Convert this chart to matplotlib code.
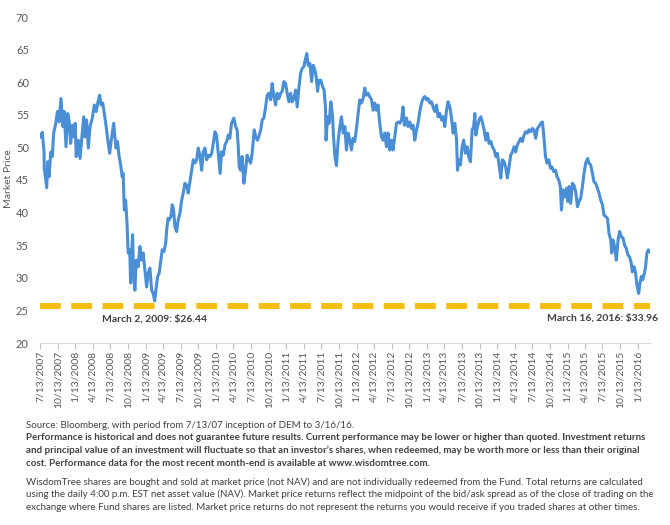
import matplotlib
matplotlib.use('Agg')
import matplotlib.pyplot as plt
import pandas as pd

# DEM market price (days since inception, price)
inception = '2007-07-13'
days_since_inception = [
    1, 12, 21, 22, 35, 40, 47, 56, 64, 71,
    82, 90, 99, 109, 119, 126, 135, 144, 152, 159,
    168, 177, 183, 188, 199, 208, 217, 227, 234, 242,
    251, 260, 272, 282, 292, 300, 310, 317, 326, 334,
    343, 351, 362, 370, 383, 389, 395, 403, 410, 419,
    427, 432, 438, 445, 452, 458, 466, 471, 476, 481,
    486, 493, 500, 510,
    519, 528, 536, 545, 554, 562, 571, 580, 588, 596,
    602, 611, 619, 628, 635, 644, 653, 658, 665, 671,
    680, 687, 694, 701, 710, 718, 727, 736, 744, 753,
    762, 770, 779, 788, 796, 805, 814, 822, 831, 840,
    848, 857, 866, 874, 883, 892, 900, 909, 917, 926,
    936, 943, 952, 961, 970, 978, 986, 995, 1007, 1016,
    1024, 1030, 1035, 1042, 1050, 1059, 1068, 1076, 1085,
    1094, 1102, 1113, 1121, 1130, 1139, 1147, 1154, 1163, 1172,
    1180, 1189, 1198, 1206, 1215, 1224, 1232, 1241, 1250, 1258,
    1267, 1276, 1284, 1293, 1302, 1310, 1319, 1328, 1336, 1345,
    1354, 1362, 1371, 1380, 1386, 1393, 1402, 1411, 1419, 1428,
    1435, 1442, 1449, 1459, 1468, 1476, 1483, 1486, 1494, 1502,
    1511, 1520, 1525, 1532, 1540, 1549, 1558, 1566, 1575, 1584,
    1592, 1601,
    1610, 1618, 1627, 1635, 1644, 1653, 1661, 1670, 1679, 1687,
    1696, 1705, 1713, 1722, 1731, 1739, 1748, 1756, 1765, 1774,
    1782, 1791, 1800, 1808, 1817, 1826, 1834, 1843, 1852, 1860,
    1869, 1878, 1886, 1893, 1904, 1912, 1921, 1930, 1938, 1947,
    1956, 1964, 1973, 1982, 1990, 1999, 2008, 2016, 2025, 2034,
    2042, 2051, 2060, 2068, 2077, 2086, 2094, 2103, 2112, 2120,
    2129, 2138, 2146,
    2155, 2164, 2169, 2175, 2184, 2193, 2201, 2210, 2219, 2227,
    2236, 2245, 2253, 2259, 2264, 2273, 2281, 2290, 2298, 2307,
    2316, 2324, 2333, 2342, 2350, 2359, 2368, 2376, 2385, 2394,
    2402, 2411, 2419, 2428, 2437, 2445, 2454, 2463, 2471, 2480,
    2489, 2497, 2506, 2515, 2523, 2532, 2540, 2549, 2558, 2566,
    2575, 2584, 2592, 2601, 2610, 2617, 2626, 2634, 2643, 2652,
    2660, 2669, 2678, 2686, 2695,
    2703, 2709, 2717, 2726, 2735, 2743, 2748, 2757, 2766, 2774,
    2783, 2792, 2800, 2809, 2818, 2826, 2835, 2845, 2852, 2861,
    2870, 2878, 2887, 2896, 2904, 2913, 2922, 2930, 2939, 2948,
    2956, 2965, 2970, 2977, 2985, 2994, 3003, 3011, 3020, 3029,
    3037, 3046, 3054, 3063, 3072, 3077, 3086, 3094, 3101, 3110,
    3117, 3124, 3131, 3140, 3146, 3153, 3160, 3169,
]
market_price = [
    51.6, 52.3, 49.3, 46.8, 43.8, 47.8, 45.5, 49.3, 48.6, 52.2,
    53.7, 55.5, 53.9, 57.5, 53.2, 55.5, 50.1, 55.2, 53.9, 50.6,
    53.4, 51.6, 53.7, 48.6, 51.1, 48.3, 51.4, 54.7, 51.6, 54.2,
    49.9, 53.2, 54.5, 56.5, 55.5, 56.8, 58.0, 56.5, 56.8, 55.2,
    53.4, 51.4, 49.1, 51.1, 53.7, 51.6, 49.9, 50.9, 48.8, 47.3,
    45.5, 46.0, 40.4, 41.9, 38.4, 33.8, 34.3, 29.2, 33.2, 36.6,
    30.7, 28.1, 32.7, 31.7,
    34.8, 32.7, 33.8, 31.2, 28.6, 30.7, 31.5, 28.1, 27.6, 26.44,
    28.1, 30.2, 30.7, 32.7, 34.3, 34.0, 35.3, 37.3, 39.1, 38.9,
    39.4, 41.2, 40.4, 37.8, 37.1, 38.9, 39.9, 41.9, 43.0, 44.5,
    44.2, 43.0, 44.7, 46.5, 48.1, 47.6, 48.1, 49.9, 48.8, 46.5,
    49.3, 49.9, 48.1, 48.8, 48.6, 49.1, 50.6, 52.4, 51.9, 49.1,
    46.0, 49.3, 48.8, 50.4, 50.9, 51.9, 51.4, 53.7, 54.5, 53.2,
    52.7, 50.1, 47.0, 46.5, 48.6, 44.5, 46.5, 48.8, 48.1,
    47.6, 49.1, 52.7, 51.6, 51.1, 51.9, 52.7, 54.2, 54.5, 56.2,
    58.0, 58.3, 57.3, 59.8, 57.8, 56.5, 58.3, 57.5, 58.3, 58.6,
    60.1, 59.8, 58.3, 57.0, 58.3, 57.0, 57.5, 58.8, 56.2, 59.1,
    61.4, 62.1, 62.4, 63.7, 64.4, 62.6, 62.9, 60.1, 62.6, 61.9,
    60.8, 58.6, 60.3, 60.3, 59.3, 58.8, 56.2, 51.1, 54.7, 53.7,
    57.0, 54.7, 51.6, 48.6, 47.2, 51.1, 53.2, 54.7, 52.2, 53.2,
    49.6, 52.2,
    51.1, 49.6, 51.4, 50.9, 52.9, 55.2, 57.3, 56.8, 57.5, 59.1,
    58.0, 58.3, 57.8, 57.3, 55.7, 56.8, 55.7, 56.5, 53.7, 51.6,
    51.1, 52.2, 50.1, 52.2, 49.6, 51.1, 49.6, 51.6, 53.7, 53.9,
    53.7, 54.2, 56.2, 53.4, 54.5, 53.2, 53.9, 52.9, 53.4, 51.1,
    52.7, 53.7, 55.5, 56.8, 57.5, 57.8, 57.3, 57.5, 56.8, 57.0,
    56.2, 55.5, 56.5, 54.7, 55.2, 54.2, 54.7, 53.2, 55.7, 57.0,
    56.2, 54.5, 52.2,
    53.7, 51.1, 46.5, 48.1, 47.3, 50.1, 51.1, 49.1, 50.1, 48.6,
    47.8, 52.7, 53.2, 55.2, 51.9, 53.2, 54.2, 54.7, 53.9, 52.7,
    51.1, 52.2, 50.6, 50.9, 50.1, 49.6, 48.6, 49.1, 47.3, 45.3,
    48.1, 47.8, 47.0, 45.3, 47.0, 48.8, 49.3, 50.1, 49.3, 50.4,
    50.9, 51.4, 50.9, 51.9, 52.4, 52.2, 52.7, 52.4, 52.9, 52.7,
    51.4, 52.9, 53.2, 53.7, 53.9, 51.9, 48.6, 47.6, 48.1, 46.8,
    47.0, 46.3, 46.5, 45.5, 45.0,
    44.0, 40.4, 43.5, 42.4, 43.7, 41.7, 44.0, 41.4, 44.5, 44.2,
    43.2, 40.9, 41.7, 42.2, 44.0, 46.0, 47.6, 48.3, 47.6, 47.3,
    46.0, 44.7, 44.5, 43.7, 43.0, 41.9, 41.2, 39.6, 39.4, 39.1,
    36.8, 35.8, 33.8, 35.8, 34.8, 32.7, 35.8, 37.1, 36.3, 36.1,
    35.0, 34.5, 33.5, 33.2, 32.2, 30.9, 31.7, 30.7, 28.9, 27.6,
    29.2, 30.2, 29.7, 30.7, 31.7, 33.8, 34.3, 33.96,
]

low_label = 'March 2, 2009: $26.44'
last_label = 'March 16, 2016: $33.96'
floor_level = 25.6
y_ticks = [20, 25, 30, 35, 40, 45, 50, 55, 60, 65, 70]
quarter_count = 35

source_note = 'Source: Bloomberg, with period from 7/13/07 inception of DEM to 3/16/16.'
performance_note = [
    'Performance is historical and does not guarantee future results. Current performance may be lower or higher than quoted. Investment returns',
    'and principal value of an investment will fluctuate so that an investor\u2019s shares, when redeemed, may be worth more or less than their original',
    'cost. Performance data for the most recent month-end is available at www.wisdomtree.com.',
]
nav_note = [
    'WisdomTree shares are bought and sold at market price (not NAV) and are not individually redeemed from the Fund. Total returns are calculated',
    'using the daily 4:00 p.m. EST net asset value (NAV). Market price returns reflect the midpoint of the bid/ask spread as of the close of trading on the',
    'exchange where Fund shares are listed. Market price returns do not represent the returns you would receive if you traded shares at other times.',
]


def main():
    assert len(days_since_inception) == len(market_price)
    plt.rcParams['font.family'] = ['Lato', 'DejaVu Sans']
    plt.rcParams['lines.scale_dashes'] = False

    start = pd.Timestamp(inception)
    dates = start + pd.to_timedelta(days_since_inception, unit='D')
    prices = pd.Series(market_price, index=dates)

    fig = plt.figure(figsize=(6.7, 5.25), dpi=100)
    ax = fig.add_axes([40 / 670, 182 / 525, 610 / 670, 326 / 525])

    ax.plot(prices.index, prices.values, color='#4a8fd6', lw=2.2, solid_joinstyle='round')
    ax.plot([start, prices.index[-1]], [floor_level, floor_level], color='#f7bd13',
            lw=4.3, ls=(0, (15, 7.5)), solid_capstyle='butt', clip_on=False)

    low_date = prices.idxmin()
    ax.annotate(low_label, xy=(low_date, prices.min()), xytext=(0, -13),
                textcoords='offset points', ha='center', va='center',
                fontsize=7.5, fontweight='bold', color='#404040')
    ax.annotate(last_label, xy=(prices.index[-1], prices.iloc[-1]), xytext=(6, -47.5),
                textcoords='offset points', ha='right', va='center',
                fontsize=7.5, fontweight='bold', color='#404040')

    ax.set_xlim(start, prices.index[-1])
    ax.set_ylim(20, 70)
    ax.set_yticks(y_ticks)

    tick_dates = pd.date_range(start, periods=quarter_count, freq=pd.DateOffset(months=3))
    ax.set_xticks(tick_dates)
    ax.set_xticklabels([f'{d.month}/{d.day}/{d.year}' for d in tick_dates],
                       rotation=90, fontsize=7.5, color='#595959')
    ax.tick_params(axis='x', length=4, color='#bfbfbf', pad=1.5)
    ax.tick_params(axis='y', length=0, pad=8, labelsize=8, labelcolor='#595959')

    for side in ('top', 'right', 'left'):
        ax.spines[side].set_visible(False)
    ax.spines['bottom'].set_color('#d9d9d9')

    fig.text(0.012, 0.66, 'Market Price', rotation=90, ha='center', va='center',
             fontsize=7.5, color='#595959')

    x0 = 26 / 670
    fig.text(x0, 1 - 425 / 525, source_note, fontsize=7, color='#404040', va='center')
    for i, line in enumerate(performance_note):
        fig.text(x0, 1 - (438 + 12.5 * i) / 525, line, fontsize=7, fontweight='bold',
                 color='#404040', va='center')
    for i, line in enumerate(nav_note):
        fig.text(x0, 1 - (482 + 12.5 * i) / 525, line, fontsize=7, color='#404040', va='center')

    fig.savefig('out.png', dpi=100)


if __name__ == '__main__':
    main()
